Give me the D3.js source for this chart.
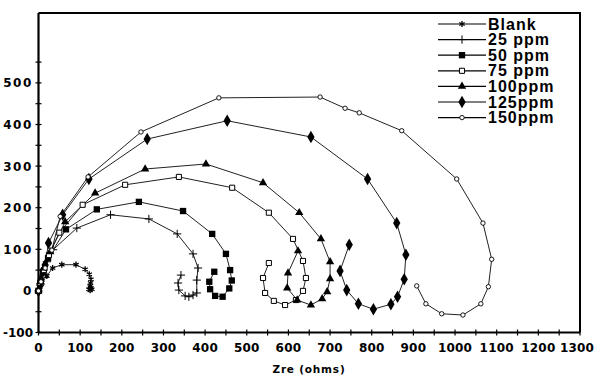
<!DOCTYPE html>
<html>
<head>
<meta charset="utf-8">
<script src="https://cdn.jsdelivr.net/npm/d3@7"></script>
<style>
  body { margin: 0; background: #fff; }
  svg { display: block; }
  .tick-label { font-family: 'DejaVu Sans', sans-serif; font-weight: bold; font-size: 12px; letter-spacing: 0.2px; fill: #000; }
  .legend-label { font-family: 'Liberation Sans', Arial, sans-serif; font-weight: bold; font-size: 16px; letter-spacing: 1px; fill: #000; }
</style>
</head>
<body>
<div id="chart"></div>
<script>
// Nyquist data, [Zre, -Zim] in ohms
const blank = [[2,2],[4,10],[8,20],[20,36],[34,55],[56,63],[90,63],[112,52],[122,40],[126,28],[125,19],[124,12],[126,7],[128,4],[121,4],[124,2]];
const ppm25 = [[0,0],[4,14],[11,38],[20,70],[35,99],[92,151],[173,183],[265,173],[333,137],[371,89],[383,55],[380,26],[380,-5],[371,-10],[361,-14],[352,-12],[337,2],[335,19],[342,38]];
const ppm50 = [[0,0],[4,17],[11,46],[23,79],[66,148],[140,196],[241,214],[347,192],[417,137],[450,89],[460,50],[464,25],[458,6],[442,-14],[424,-12],[412,4],[410,22],[422,46]];
const ppm75 = [[0,0],[4,19],[13,50],[25,86],[50,140],[106,207],[208,255],[337,274],[465,248],[553,188],[611,125],[635,72],[642,31],[635,0],[618,-22],[592,-34],[565,-24],[544,-5],[539,31],[553,67]];
const ppm100 = [[0,0],[4,22],[13,55],[28,94],[64,166],[136,235],[256,293],[402,305],[539,260],[626,188],[678,125],[700,70],[700,29],[693,-2],[681,-19],[654,-34],[621,-22],[597,7],[599,43],[623,96]];
const ppm125 = [[0,0],[6,26],[16,62],[24,115],[58,183],[121,269],[261,365],[453,409],[654,370],[790,269],[860,163],[882,87],[878,28],[862,-14],[846,-32],[804,-44],[768,-31],[740,2],[724,48],[746,111]];
const ppm150 = [[0,0],[6,22],[16,55],[32,98],[52,179],[119,274],[246,382],[433,464],[676,466],[736,439],[770,428],[872,385],[1004,269],[1067,163],[1088,76],[1080,10],[1062,-31],[1019,-58],[968,-55],[930,-31],[908,12]];

const seriesNames = ['Blank', '25 ppm', '50 ppm', '75 ppm', '100ppm', '125ppm', '150ppm'];
const seriesData = [blank, ppm25, ppm50, ppm75, ppm100, ppm125, ppm150];
const markerKinds = ['asterisk', 'plus', 'square', 'openSquare', 'triangle', 'diamond', 'openCircle'];

const xTicks = d3.range(0, 1301, 50);
const yTicks = d3.range(-100, 551, 50);
const xAxisTitle = 'Zre (ohms)';

const width = 596, height = 380;
const svg = d3.select('#chart').append('svg')
  .attr('width', width)
  .attr('height', height);

const x = d3.scaleLinear().domain([0, 1300]).range([38.5, 580]);
const y = d3.scaleLinear().domain([-100, 668]).range([332.5, 13]);

function marker (g, kind) {
  const asterisk = d3.symbolAsterisk || d3.symbolCross;
  const plus = d3.symbolPlus || d3.symbolCross;
  if (kind === 'asterisk') {
    g.append('path').attr('d', d3.symbol(asterisk, 26)()).attr('fill', 'none').attr('stroke', '#000').attr('stroke-width', 1.3);
  } else if (kind === 'plus') {
    g.append('path').attr('d', d3.symbol(plus, 24)()).attr('fill', 'none').attr('stroke', '#000').attr('stroke-width', 1);
  } else if (kind === 'square') {
    g.append('path').attr('d', d3.symbol(d3.symbolSquare, 40)()).attr('fill', '#000');
  } else if (kind === 'openSquare') {
    g.append('path').attr('d', d3.symbol(d3.symbolSquare, 26)()).attr('fill', '#fff').attr('stroke', '#000').attr('stroke-width', 1);
  } else if (kind === 'triangle') {
    g.append('path').attr('d', d3.symbol(d3.symbolTriangle, 30)()).attr('fill', '#000');
  } else if (kind === 'diamond') {
    g.append('path').attr('d', d3.symbol(d3.symbolDiamond, 46)()).attr('fill', '#000');
  } else {
    g.append('circle').attr('r', 2.2).attr('fill', '#fff').attr('stroke', '#000').attr('stroke-width', 0.9);
  }
}

// frame
svg.append('path')
  .attr('d', `M${x(0)},${y(668)}H${x(1300)}V${y(-100)}`)
  .attr('fill', 'none')
  .attr('stroke', '#000')
  .attr('stroke-width', 2);

// x axis
const xAxis = svg.append('g');
xAxis.append('line')
  .attr('x1', x(0)).attr('x2', x(1300))
  .attr('y1', y(-100)).attr('y2', y(-100))
  .attr('stroke', '#000').attr('stroke-width', 2.2);
xAxis.selectAll('.xt').data(xTicks).enter().append('line')
  .attr('x1', d => x(d)).attr('x2', d => x(d))
  .attr('y1', y(-100) - 3).attr('y2', y(-100) + 3)
  .attr('stroke', '#000').attr('stroke-width', 1.2);
xAxis.selectAll('.xl').data(xTicks.filter(d => d % 100 === 0)).enter().append('text')
  .attr('class', 'tick-label')
  .attr('x', d => Math.min(x(d), 577))
  .attr('y', 352)
  .attr('text-anchor', 'middle')
  .text(d => d);
svg.append('text')
  .attr('class', 'tick-label')
  .attr('x', 309)
  .attr('y', 373)
  .attr('text-anchor', 'middle')
  .style('font-size', '10.5px')
  .style('letter-spacing', '0.8px')
  .text(xAxisTitle);

// y axis
const yAxis = svg.append('g');
yAxis.append('line')
  .attr('x1', x(0)).attr('x2', x(0))
  .attr('y1', y(668)).attr('y2', y(-100))
  .attr('stroke', '#000').attr('stroke-width', 2.2);
yAxis.selectAll('.yt').data(yTicks).enter().append('line')
  .attr('x1', x(0) - 3).attr('x2', x(0) + 3)
  .attr('y1', d => y(d)).attr('y2', d => y(d))
  .attr('stroke', '#000').attr('stroke-width', 1.2);
yAxis.selectAll('.yl').data(yTicks.filter(d => d % 100 === 0)).enter().append('text')
  .attr('class', 'tick-label')
  .attr('x', 33)
  .attr('y', d => y(d) + 4.5)
  .attr('text-anchor', 'end')
  .style('letter-spacing', d => d < 0 ? '0px' : '1.6px')
  .text(d => d);

// curves
const line = d3.line().x(d => x(d[0])).y(d => y(d[1]));
seriesData.forEach((data, i) => {
  svg.append('path')
    .datum(data)
    .attr('d', line)
    .attr('fill', 'none')
    .attr('stroke', '#222')
    .attr('stroke-width', 1);
});
seriesData.forEach((data, i) => {
  svg.append('g').selectAll('g')
    .data(data)
    .enter()
    .append('g')
    .attr('transform', d => `translate(${x(d[0])},${y(d[1])})`)
    .each(function () { marker(d3.select(this), markerKinds[i]); });
});

// legend
const legend = svg.append('g');
seriesNames.forEach((name, i) => {
  const ly = 24 + i * 15.6;
  legend.append('line')
    .attr('x1', 438).attr('x2', 486)
    .attr('y1', ly).attr('y2', ly)
    .attr('stroke', '#000').attr('stroke-width', 1.2);
  marker(legend.append('g').attr('transform', `translate(462,${ly})`), markerKinds[i]);
  legend.append('text')
    .attr('class', 'legend-label')
    .attr('x', 488)
    .attr('y', ly + 5.5)
    .text(name);
});
</script>
</body>
</html>
